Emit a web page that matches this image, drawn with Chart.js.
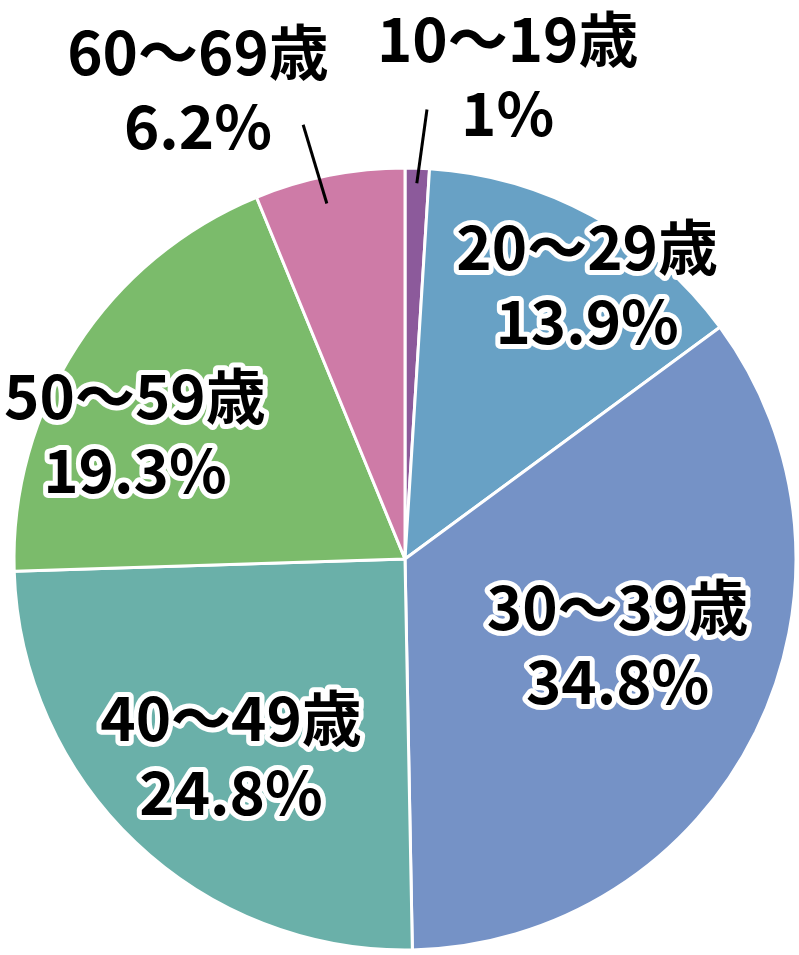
<!DOCTYPE html>
<html>
<head>
<meta charset="utf-8">
<script src="https://cdn.jsdelivr.net/npm/chart.js@4/dist/chart.umd.min.js"></script>
<style>
html,body{margin:0;padding:0;background:#fff;}
canvas{display:block;}
</style>
</head>
<body>
<canvas id="c" width="799" height="955"></canvas>
<script>
const categories = ["10～19歳", "20～29歳", "30～39歳", "40～49歳", "50～59歳", "60～69歳"];
const percentLabels = ["1%", "13.9%", "34.8%", "24.8%", "19.3%", "6.2%"];
const values = [1, 13.9, 34.8, 24.8, 19.3, 6.2];
const colors = ["#8C5A9B", "#68A1C5", "#7592C6", "#6AB0A9", "#7BBB6B", "#CE7BA7"];

// label placement (polar, relative to pie centre: degrees clockwise from top, distance in px)
const labelPlace = [
  {ang: 12.0, dist: 494, outline: false, leader: {a1: 1.8, r1: 376, a2: 2.8, r2: 450}},
  {ang: 33.5, dist: 330, outline: true},
  {ang: 111.8, dist: 229, outline: true},
  {ang: 221.6, dist: 262, outline: true},
  {ang: 295.0, dist: 298, outline: true},
  {ang: 336.2, dist: 513, outline: false, leader: {a1: -12.4, r1: 364, a2: -13.2, r2: 446}}
];

const FONT = 'bold 60px "Noto Sans CJK JP", "Noto Sans", sans-serif';
const LINE_GAP = 74;

function polar(cx, cy, deg, r) {
  const a = deg * Math.PI / 180;
  return {x: cx + r * Math.sin(a), y: cy - r * Math.cos(a)};
}

const labelPlugin = {
  id: 'labels',
  afterDraw(chart) {
    const ctx = chart.ctx;
    const meta = chart.getDatasetMeta(0);
    const arc0 = meta.data[0];
    const cx = arc0.x, cy = arc0.y;
    ctx.save();
    ctx.font = FONT;
    ctx.textAlign = 'center';
    ctx.textBaseline = 'middle';
    ctx.lineJoin = 'round';
    categories.forEach((cat, i) => {
      const p = labelPlace[i];
      if (p.leader) {
        const s = polar(cx, cy, p.leader.a1, p.leader.r1);
        const e = polar(cx, cy, p.leader.a2, p.leader.r2);
        ctx.beginPath();
        ctx.moveTo(s.x, s.y);
        ctx.lineTo(e.x, e.y);
        ctx.strokeStyle = '#000';
        ctx.lineWidth = 3;
        ctx.stroke();
      }
      const c = polar(cx, cy, p.ang, p.dist);
      const lines = [cat, percentLabels[i]];
      lines.forEach((t, k) => {
        const y = c.y + (k === 0 ? -LINE_GAP / 2 : LINE_GAP / 2);
        if (p.outline) {
          ctx.strokeStyle = '#fff';
          ctx.lineWidth = 10;
          ctx.strokeText(t, c.x, y);
        }
        ctx.fillStyle = '#000';
        ctx.fillText(t, c.x, y);
      });
    });
    ctx.restore();
  }
};

new Chart(document.getElementById('c'), {
  type: 'pie',
  data: {
    labels: categories,
    datasets: [{
      data: values,
      backgroundColor: colors,
      borderColor: '#ffffff',
      borderWidth: 3
    }]
  },
  options: {
    responsive: false,
    animation: false,
    radius: 391,
    layout: {padding: {left: 14, right: 3, top: 166, bottom: 3}},
    plugins: {legend: {display: false}, tooltip: {enabled: false}}
  },
  plugins: [labelPlugin]
});
</script>
</body>
</html>
